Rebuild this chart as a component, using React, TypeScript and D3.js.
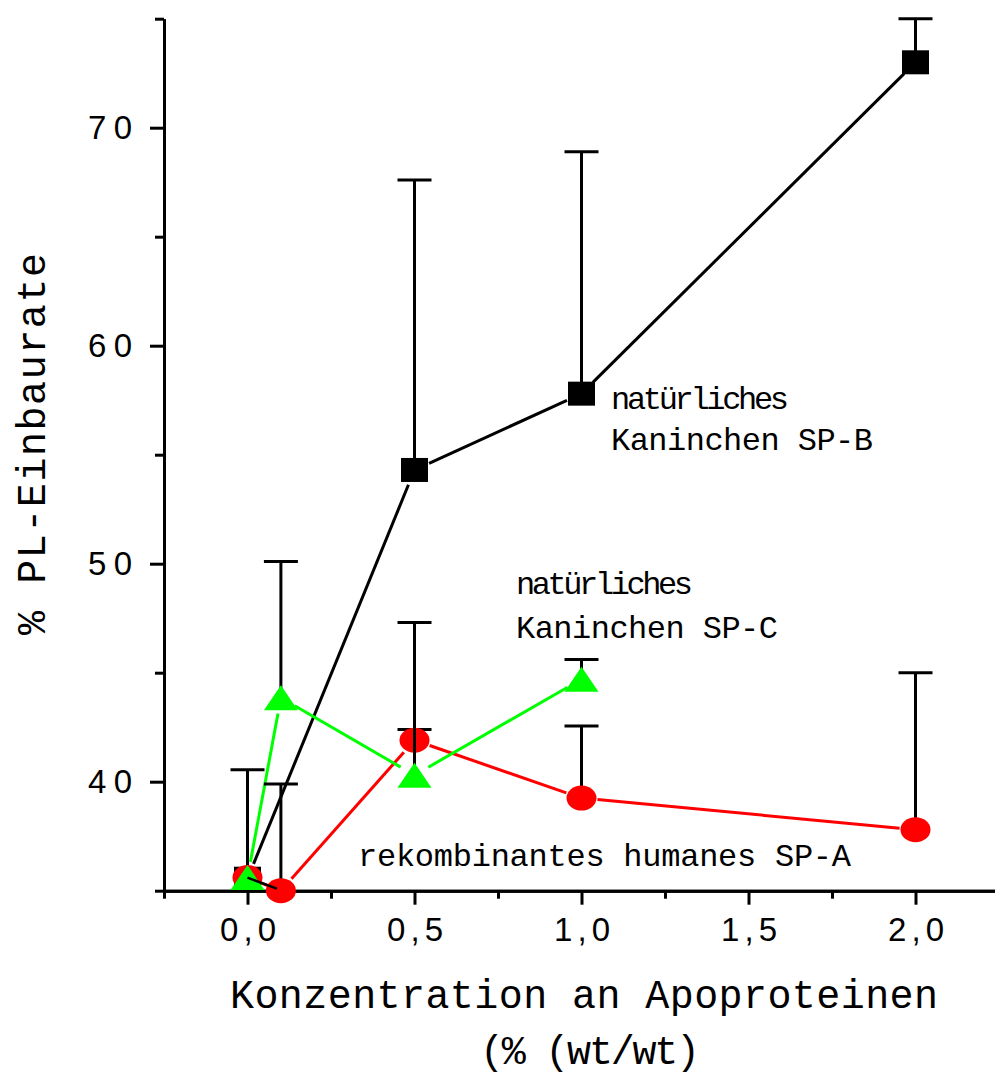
import React, { useRef, useEffect } from "react";
import * as d3 from "d3";

// x ticks (% wt/wt) and y ticks (% PL-Einbaurate)
const xMajor = [0, 0.5, 1, 1.5, 2];
const xMinor = [-0.25, 0.25, 0.75, 1.25, 1.75, 2.25];
const yMajor = [40, 50, 60, 70];
const yMinor = [35, 45, 55, 65, 75];

// natürliches Kaninchen SP-B
const spBx = [0, 0.5, 1, 2];
const spBy = [35.55, 54.3, 57.8, 73.0];
const spBerr = [5.0, 13.3, 11.1, 2.0];

// rekombinantes humanes SP-A
const spAx = [0, 0.1, 0.5, 1, 2];
const spAy = [35.6, 35.0, 41.9, 39.25, 37.8];
const spAerr = [0, 4.9, 0.5, 3.3, 7.2];

// natürliches Kaninchen SP-C
const spCx = [0, 0.1, 0.5, 1];
const spCy = [35.6, 43.85, 40.3, 44.7];
const spCerr = [0, 6.25, 7.0, 0.9];

const mono = "'Liberation Mono', 'DejaVu Sans Mono', monospace";
const sans = "'Liberation Sans', Arial, sans-serif";

export default function App() {
  const svgRef = useRef<SVGSVGElement>(null);

  useEffect(() => {
    const width = 995;
    const height = 1075;

    const svg = d3.select(svgRef.current)
      .attr("width", width)
      .attr("height", height)
      .attr("viewBox", [0, 0, width, height]);

    svg.selectAll("*").remove();

    const x = d3.scaleLinear().domain([-0.25, 2.25]).range([164, 999]);
    const y = d3.scaleLinear().domain([35, 75]).range([890.7, 18.7]);

    const styleAxis = (g: any) => {
      g.select(".domain").attr("stroke-width", 3);
      g.selectAll(".tick line").attr("stroke-width", 3);
    };

    // minor ticks
    svg.append("g")
      .attr("transform", `translate(0,${y(35)})`)
      .call(d3.axisBottom(x).tickValues(xMinor).tickSize(8).tickSizeOuter(0).tickFormat(() => ""))
      .call(styleAxis);
    svg.append("g")
      .attr("transform", `translate(${x(-0.25)},0)`)
      .call(d3.axisLeft(y).tickValues(yMinor).tickSize(9).tickSizeOuter(0).tickFormat(() => ""))
      .call(styleAxis);

    // X axis
    svg.append("g")
      .attr("transform", `translate(0,${y(35)})`)
      .call(d3.axisBottom(x).tickValues(xMajor).tickSize(14).tickSizeOuter(0)
        .tickFormat((d: any) => d3.format(".1f")(d).replace(".", ",")))
      .call(styleAxis)
      .call((g: any) => g.selectAll(".tick text")
        .attr("y", 50).attr("dy", null)
        .attr("font-size", 33).attr("font-family", sans).attr("fill", "#000")
        .attr("textLength", 56).attr("lengthAdjust", "spacing"));

    // Y axis
    svg.append("g")
      .attr("transform", `translate(${x(-0.25)},0)`)
      .call(d3.axisLeft(y).tickValues(yMajor).tickSize(14).tickPadding(18).tickSizeOuter(0)
        .tickFormat(d3.format("d")))
      .call(styleAxis)
      .call((g: any) => g.selectAll(".tick text")
        .attr("font-size", 33).attr("font-family", sans).attr("fill", "#000")
        .attr("textLength", 44).attr("lengthAdjust", "spacing"));

    // lines, stopped short of the markers
    const gap = 16;
    const drawLine = (xs: number[], ys: number[], color: string, w: number) => {
      const pts = xs.map((v, i) => [x(v), y(ys[i])]);
      for (let i = 0; i < pts.length - 1; i++) {
        const [x0, y0] = pts[i];
        const [x1, y1] = pts[i + 1];
        const len = Math.hypot(x1 - x0, y1 - y0);
        const ux = (x1 - x0) / len, uy = (y1 - y0) / len;
        const g0 = Math.min(gap, len / 3);
        svg.append("line")
          .attr("x1", x0 + ux * g0).attr("y1", y0 + uy * g0)
          .attr("x2", x1 - ux * g0).attr("y2", y1 - uy * g0)
          .attr("stroke", color).attr("stroke-width", w);
      }
    };
    drawLine(spBx, spBy, "#000", 3);
    drawLine(spAx, spAy, "#ff0000", 3);
    drawLine(spCx, spCy, "#00ff00", 3);

    const errBars = (xs: number[], ys: number[], errs: number[]) => {
      const g = svg.append("g").attr("stroke", "#000").attr("stroke-width", 3);
      xs.forEach((v, i) => {
        if (!errs[i]) return;
        const cx = x(v);
        const top = y(ys[i] + errs[i]);
        g.append("line").attr("x1", cx).attr("x2", cx).attr("y1", y(ys[i])).attr("y2", top);
        g.append("line").attr("x1", cx - 17).attr("x2", cx + 17).attr("y1", top).attr("y2", top);
      });
    };

    // SP-B squares
    errBars(spBx, spBy, spBerr);
    svg.append("g").selectAll("rect")
      .data(spBx)
      .join("rect")
        .attr("x", (d) => x(d) - 13.5)
        .attr("y", (d, i) => y(spBy[i]) - 12)
        .attr("width", 27)
        .attr("height", 24)
        .attr("fill", "#000");

    // SP-A circles
    errBars(spAx, spAy, spAerr);
    svg.append("g").selectAll("ellipse")
      .data(spAx)
      .join("ellipse")
        .attr("cx", (d) => x(d))
        .attr("cy", (d, i) => y(spAy[i]))
        .attr("rx", 15)
        .attr("ry", 12.5)
        .attr("fill", "#ff0000");

    // SP-C triangles
    errBars(spCx, spCy, spCerr);
    svg.append("g").selectAll("path")
      .data(spCx)
      .join("path")
        .attr("d", (d, i) => {
          const cx = x(d), cy = y(spCy[i]);
          return `M${cx},${cy - 12.5}L${cx + 17},${cy + 12.5}L${cx - 17},${cy + 12.5}Z`;
        })
        .attr("fill", "#00ff00");

    // short black link between the first two points
    svg.append("line")
      .attr("x1", x(spAx[0])).attr("y1", y(spAy[0]))
      .attr("x2", x(spAx[1]) - 4).attr("y2", y(spAy[1]) - 2)
      .attr("stroke", "#000").attr("stroke-width", 2.5);

    // annotations
    const note = (t: string, px: number, py: number, len: number) =>
      svg.append("text")
        .attr("x", px).attr("y", py)
        .attr("font-family", mono).attr("font-size", 32).attr("fill", "#000")
        .attr("textLength", len).attr("lengthAdjust", "spacing")
        .text(t);
    note("natürliches", 611, 409, 178);
    note("Kaninchen SP-B", 611, 450, 262);
    note("natürliches", 516, 594, 177);
    note("Kaninchen SP-C", 516, 638, 262);
    note("rekombinantes humanes SP-A", 358, 866, 493);

    // axis titles
    svg.append("text")
      .attr("x", 584).attr("y", 1008)
      .attr("text-anchor", "middle")
      .attr("font-family", mono).attr("font-size", 40).attr("fill", "#000")
      .attr("textLength", 708).attr("lengthAdjust", "spacing")
      .text("Konzentration an Apoproteinen");
    svg.append("text")
      .attr("x", 590).attr("y", 1064)
      .attr("text-anchor", "middle")
      .attr("font-family", mono).attr("font-size", 40).attr("fill", "#000")
      .attr("textLength", 220).attr("lengthAdjust", "spacing")
      .text("(% (wt/wt)");
    svg.append("text")
      .attr("transform", "translate(45,444) rotate(-90)")
      .attr("text-anchor", "middle")
      .attr("font-family", mono).attr("font-size", 40).attr("fill", "#000")
      .attr("textLength", 382).attr("lengthAdjust", "spacing")
      .text("% PL-Einbaurate");
  }, []);

  return <svg ref={svgRef} style={{ position: "absolute", left: 0, top: 0, background: "#fff" }}></svg>;
}
